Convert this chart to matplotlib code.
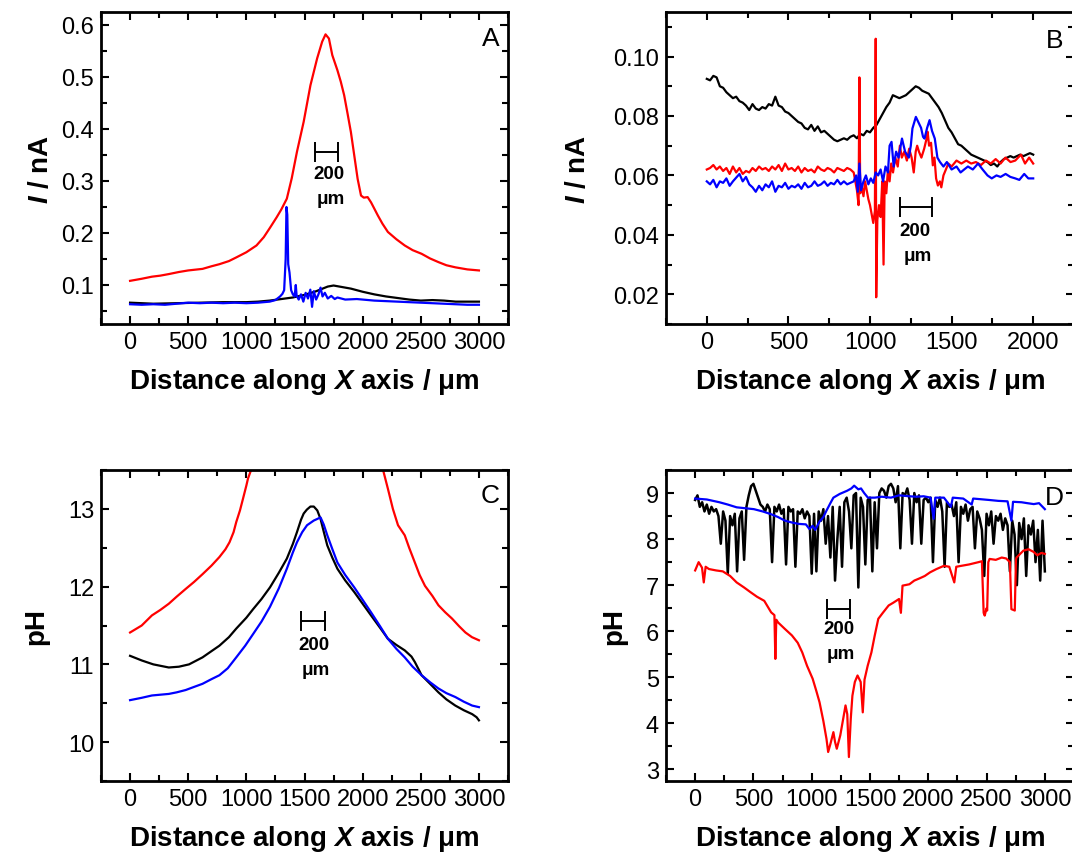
import numpy as np
import matplotlib
matplotlib.use('Agg')
import matplotlib.pyplot as plt
from matplotlib.ticker import MultipleLocator, FormatStrFormatter

plt.rcParams['font.family'] = ['Liberation Sans', 'DejaVu Sans']
plt.rcParams['mathtext.fontset'] = 'custom'
plt.rcParams['mathtext.rm'] = 'Liberation Sans:bold'
plt.rcParams['mathtext.it'] = 'Liberation Sans:bold:italic'

# ---- panel A: current vs distance (x in um, y in nA)
a_red = [(0, 0.108), (100, 0.112), (188, 0.116), (260, 0.118), (333, 0.121), (420, 0.125),
         (500, 0.128), (623, 0.131), (700, 0.136), (768, 0.140), (850, 0.146), (913, 0.153),
         (1000, 0.163), (1087, 0.176), (1150, 0.192), (1203, 0.210), (1260, 0.230), (1300, 0.245),
         (1348, 0.266), (1390, 0.305), (1435, 0.356), (1493, 0.414), (1551, 0.484), (1609, 0.536),
         (1652, 0.568), (1681, 0.582), (1710, 0.574), (1739, 0.542), (1783, 0.513), (1812, 0.491),
         (1841, 0.465), (1870, 0.430), (1899, 0.394), (1928, 0.349), (1957, 0.304), (1986, 0.272),
         (2010, 0.268), (2043, 0.269), (2072, 0.259), (2100, 0.247), (2130, 0.234), (2170, 0.218),
         (2217, 0.202), (2290, 0.188), (2362, 0.176), (2430, 0.167), (2507, 0.160), (2580, 0.151),
         (2652, 0.144), (2720, 0.138), (2797, 0.134), (2900, 0.130), (3000, 0.128)]
a_black = [(0, 0.066), (200, 0.064), (400, 0.065), (600, 0.066), (800, 0.067), (1000, 0.067),
           (1100, 0.068), (1200, 0.070), (1300, 0.073), (1400, 0.076), (1500, 0.081), (1600, 0.088),
           (1700, 0.097), (1750, 0.099), (1800, 0.097), (1900, 0.093), (2000, 0.087), (2100, 0.082),
           (2200, 0.078), (2300, 0.075), (2400, 0.072), (2500, 0.070), (2600, 0.071), (2700, 0.070),
           (2800, 0.068), (2900, 0.068), (3000, 0.068)]
a_blue = [(0, 0.063), (100, 0.062), (200, 0.063), (300, 0.062), (400, 0.064), (500, 0.066),
          (600, 0.065), (700, 0.066), (800, 0.065), (900, 0.066), (1000, 0.065), (1100, 0.066),
          (1200, 0.068), (1250, 0.071), (1290, 0.078), (1310, 0.083), (1325, 0.090), (1338, 0.150),
          (1345, 0.250), (1352, 0.235), (1360, 0.140), (1371, 0.124), (1385, 0.090), (1400, 0.082),
          (1415, 0.078), (1425, 0.100), (1432, 0.080), (1450, 0.072), (1470, 0.082), (1490, 0.068),
          (1510, 0.085), (1530, 0.074), (1550, 0.091), (1565, 0.058), (1580, 0.088), (1600, 0.072),
          (1620, 0.082), (1638, 0.095), (1655, 0.078), (1675, 0.085), (1700, 0.074), (1730, 0.079),
          (1760, 0.073), (1783, 0.076), (1850, 0.072), (1950, 0.073), (2100, 0.070), (2300, 0.068),
          (2500, 0.066), (2700, 0.064), (2900, 0.062), (3000, 0.062)]

# ---- panel B
b_black = [(0, 0.0925), (20, 0.0920), (40, 0.0935), (60, 0.0930), (80, 0.0900), (100, 0.0895),
           (120, 0.0880), (140, 0.0870), (160, 0.0860), (180, 0.0865), (200, 0.0850), (220, 0.0845),
           (240, 0.0835), (260, 0.0820), (280, 0.0840), (300, 0.0825), (320, 0.0820), (340, 0.0830),
           (360, 0.0825), (380, 0.0840), (400, 0.0835), (420, 0.0865), (440, 0.0835), (460, 0.0830),
           (480, 0.0815), (500, 0.0810), (520, 0.0800), (540, 0.0790), (560, 0.0780), (580, 0.0775),
           (600, 0.0760), (620, 0.0755), (640, 0.0770), (660, 0.0750), (680, 0.0765), (700, 0.0745),
           (720, 0.0750), (740, 0.0740), (760, 0.0730), (780, 0.0720), (800, 0.0715), (820, 0.0720),
           (840, 0.0725), (860, 0.0720), (880, 0.0730), (900, 0.0735), (920, 0.0725), (940, 0.0740),
           (960, 0.0735), (980, 0.0750), (1000, 0.0745), (1020, 0.0760), (1040, 0.0770), (1060, 0.0790),
           (1080, 0.0810), (1100, 0.0830), (1120, 0.0845), (1140, 0.0870), (1160, 0.0865), (1180, 0.0860),
           (1200, 0.0865), (1220, 0.0870), (1240, 0.0880), (1260, 0.0890), (1280, 0.0900), (1300, 0.0895),
           (1320, 0.0885), (1340, 0.0880), (1360, 0.0875), (1380, 0.0860), (1400, 0.0845), (1420, 0.0830),
           (1440, 0.0810), (1460, 0.0785), (1480, 0.0760), (1500, 0.0745), (1520, 0.0725), (1540, 0.0705),
           (1560, 0.0700), (1580, 0.0690), (1600, 0.0680), (1620, 0.0670), (1640, 0.0665), (1660, 0.0660),
           (1680, 0.0655), (1700, 0.0650), (1720, 0.0645), (1740, 0.0635), (1760, 0.0640), (1780, 0.0630),
           (1800, 0.0645), (1820, 0.0655), (1840, 0.0660), (1860, 0.0665), (1880, 0.0660), (1900, 0.0665),
           (1920, 0.0670), (1940, 0.0665), (1960, 0.0670), (1980, 0.0675), (2000, 0.0670)]
b_red = [(0, 0.0620), (20, 0.0625), (40, 0.0635), (60, 0.0620), (80, 0.0630), (100, 0.0615),
         (120, 0.0625), (140, 0.0605), (160, 0.0630), (180, 0.0610), (200, 0.0625), (220, 0.0605),
         (240, 0.0615), (260, 0.0610), (280, 0.0625), (300, 0.0615), (320, 0.0630), (340, 0.0620),
         (360, 0.0625), (380, 0.0615), (400, 0.0630), (420, 0.0620), (440, 0.0635), (460, 0.0615),
         (480, 0.0640), (500, 0.0620), (520, 0.0625), (540, 0.0615), (560, 0.0630), (580, 0.0610),
         (600, 0.0625), (620, 0.0615), (640, 0.0620), (660, 0.0610), (680, 0.0630), (700, 0.0620),
         (720, 0.0615), (740, 0.0625), (760, 0.0620), (780, 0.0610), (800, 0.0625), (820, 0.0620),
         (840, 0.0615), (860, 0.0625), (880, 0.0620), (900, 0.0610), (910, 0.0580), (920, 0.0550),
         (930, 0.0500), (935, 0.0930), (940, 0.0540), (950, 0.0560), (960, 0.0530), (970, 0.0580),
         (980, 0.0550), (990, 0.0520), (1000, 0.0500), (1010, 0.0470), (1020, 0.0440), (1030, 0.0480),
         (1035, 0.1060), (1038, 0.0190), (1045, 0.0450), (1055, 0.0500), (1065, 0.0460), (1075, 0.0580),
         (1083, 0.0300), (1090, 0.0580), (1100, 0.0540), (1110, 0.0620), (1120, 0.0580), (1130, 0.0640),
         (1141, 0.0610), (1155, 0.0660), (1170, 0.0630), (1183, 0.0700), (1195, 0.0660), (1210, 0.0680),
         (1226, 0.0650), (1240, 0.0690), (1255, 0.0660), (1268, 0.0610), (1280, 0.0680), (1289, 0.0700),
         (1300, 0.0680), (1315, 0.0660), (1332, 0.0690), (1345, 0.0720), (1353, 0.0747), (1362, 0.0700),
         (1374, 0.0710), (1385, 0.0634), (1395, 0.0660), (1405, 0.0590), (1416, 0.0566), (1428, 0.0580),
         (1437, 0.0560), (1450, 0.0600), (1465, 0.0620), (1480, 0.0640), (1500, 0.0630), (1530, 0.0650),
         (1560, 0.0640), (1590, 0.0650), (1620, 0.0640), (1649, 0.0645), (1680, 0.0635), (1710, 0.0650),
         (1740, 0.0640), (1770, 0.0655), (1800, 0.0640), (1830, 0.0660), (1861, 0.0645), (1890, 0.0650),
         (1925, 0.0670), (1950, 0.0640), (1975, 0.0660), (2000, 0.0640)]
b_blue = [(0, 0.0580), (20, 0.0570), (40, 0.0585), (60, 0.0560), (80, 0.0580), (100, 0.0575),
          (120, 0.0590), (140, 0.0565), (160, 0.0580), (184, 0.0595), (200, 0.0605), (220, 0.0580),
          (240, 0.0595), (260, 0.0570), (280, 0.0560), (300, 0.0545), (320, 0.0565), (340, 0.0550),
          (360, 0.0570), (380, 0.0560), (400, 0.0580), (420, 0.0545), (440, 0.0565), (460, 0.0560),
          (480, 0.0575), (500, 0.0555), (520, 0.0565), (540, 0.0560), (560, 0.0570), (580, 0.0555),
          (600, 0.0575), (620, 0.0560), (640, 0.0565), (660, 0.0580), (680, 0.0565), (700, 0.0570),
          (720, 0.0580), (740, 0.0565), (760, 0.0575), (780, 0.0570), (800, 0.0585), (820, 0.0570),
          (840, 0.0580), (860, 0.0570), (880, 0.0575), (900, 0.0580), (915, 0.0600), (925, 0.0545),
          (935, 0.0640), (945, 0.0550), (960, 0.0580), (975, 0.0600), (990, 0.0570), (1005, 0.0590),
          (1020, 0.0575), (1035, 0.0610), (1050, 0.0600), (1065, 0.0620), (1080, 0.0580), (1095, 0.0630),
          (1110, 0.0610), (1120, 0.0700), (1132, 0.0713), (1145, 0.0630), (1160, 0.0680), (1175, 0.0660),
          (1196, 0.0724), (1215, 0.0680), (1238, 0.0660), (1250, 0.0700), (1260, 0.0758), (1281, 0.0797),
          (1300, 0.0775), (1313, 0.0760), (1325, 0.0730), (1334, 0.0724), (1350, 0.0760), (1365, 0.0786),
          (1380, 0.0750), (1397, 0.0724), (1413, 0.0660), (1429, 0.0645), (1450, 0.0630), (1471, 0.0645),
          (1500, 0.0620), (1530, 0.0630), (1555, 0.0610), (1577, 0.0620), (1600, 0.0630), (1630, 0.0620),
          (1662, 0.0640), (1690, 0.0620), (1720, 0.0600), (1746, 0.0590), (1775, 0.0600), (1800, 0.0595),
          (1831, 0.0605), (1860, 0.0595), (1890, 0.0590), (1915, 0.0585), (1945, 0.0605), (1970, 0.0590),
          (2000, 0.0590)]

# ---- panel C: pH (red goes off scale in the middle -> nan gap)
c_red = [(0, 11.41), (100, 11.50), (188, 11.63), (260, 11.70), (333, 11.78), (400, 11.87),
         (478, 11.97), (550, 12.06), (623, 12.16), (700, 12.27), (768, 12.38), (820, 12.48),
         (855, 12.57), (890, 12.70), (913, 12.83), (945, 12.98), (971, 13.13), (1000, 13.30),
         (1014, 13.39), (1043, 13.51), (1050, 13.60), (1600, np.nan), (2165, 13.60), (2174, 13.51),
         (2217, 13.26), (2260, 13.00), (2304, 12.79), (2362, 12.66), (2400, 12.50), (2449, 12.31),
         (2490, 12.15), (2536, 12.01), (2600, 11.88), (2652, 11.76), (2710, 11.67), (2768, 11.59),
         (2830, 11.49), (2884, 11.41), (2940, 11.35), (3000, 11.31)]
c_black = [(0, 11.11), (101, 11.05), (200, 11.00), (333, 10.96), (420, 10.97), (507, 11.00),
           (623, 11.09), (700, 11.17), (768, 11.24), (850, 11.35), (913, 11.46), (1000, 11.60),
           (1058, 11.71), (1130, 11.84), (1203, 11.99), (1280, 12.18), (1348, 12.36), (1400, 12.55),
           (1435, 12.70), (1470, 12.86), (1493, 12.94), (1520, 12.99), (1551, 13.03), (1580, 13.03),
           (1610, 12.98), (1638, 12.87), (1670, 12.68), (1696, 12.53), (1740, 12.37), (1783, 12.23),
           (1850, 12.08), (1928, 11.93), (2000, 11.78), (2072, 11.63), (2150, 11.47), (2217, 11.33),
           (2290, 11.25), (2362, 11.18), (2420, 11.10), (2449, 11.03), (2480, 10.94), (2507, 10.86),
           (2580, 10.75), (2652, 10.64), (2720, 10.55), (2797, 10.47), (2870, 10.41), (2942, 10.36),
           (2980, 10.32), (3000, 10.28)]
c_blue = [(0, 10.54), (100, 10.57), (188, 10.60), (260, 10.61), (333, 10.62), (400, 10.64),
          (478, 10.67), (550, 10.71), (623, 10.75), (700, 10.81), (768, 10.86), (840, 10.95),
          (913, 11.09), (990, 11.24), (1058, 11.39), (1130, 11.55), (1203, 11.74), (1280, 11.98),
          (1348, 12.23), (1400, 12.44), (1435, 12.57), (1480, 12.70), (1522, 12.79), (1580, 12.85),
          (1638, 12.89), (1665, 12.80), (1696, 12.66), (1740, 12.48), (1783, 12.31), (1850, 12.15),
          (1928, 11.99), (2000, 11.83), (2072, 11.67), (2150, 11.49), (2217, 11.33), (2290, 11.20),
          (2362, 11.09), (2430, 10.97), (2507, 10.86), (2580, 10.77), (2652, 10.69), (2720, 10.63),
          (2797, 10.58), (2870, 10.52), (2942, 10.47), (3000, 10.45)]

# ---- panel D: pH
d_red = [(0, 7.32), (30, 7.50), (59, 7.38), (74, 7.06), (90, 7.40), (119, 7.35), (180, 7.32),
         (237, 7.30), (300, 7.20), (356, 7.06), (420, 6.95), (474, 6.85), (530, 6.75), (593, 6.66),
         (652, 6.41), (680, 6.35), (688, 5.40), (696, 6.25), (712, 6.19), (770, 6.05), (830, 5.91),
         (880, 5.75), (919, 5.54), (960, 5.25), (1008, 4.97), (1040, 4.70), (1067, 4.46), (1100, 4.05),
         (1127, 3.66), (1141, 3.38), (1160, 3.55), (1186, 3.81), (1200, 3.60), (1215, 3.45),
         (1245, 3.74), (1270, 4.10), (1290, 4.39), (1305, 4.20), (1319, 3.27), (1335, 4.10),
         (1349, 4.60), (1370, 4.90), (1393, 5.04), (1420, 4.90), (1438, 4.24), (1453, 4.95),
         (1480, 5.25), (1512, 5.54), (1540, 5.90), (1571, 6.27), (1610, 6.40), (1660, 6.56),
         (1700, 6.62), (1749, 6.70), (1765, 6.40), (1779, 6.99), (1838, 7.02), (1880, 7.10),
         (1927, 7.15), (1970, 7.20), (2016, 7.28), (2070, 7.35), (2134, 7.42), (2180, 7.40),
         (2223, 7.06), (2240, 7.40), (2283, 7.42), (2350, 7.45), (2431, 7.50), (2460, 7.52),
         (2475, 6.40), (2484, 6.34), (2500, 6.50), (2505, 6.45), (2515, 7.50), (2526, 7.57),
         (2579, 7.55), (2630, 7.60), (2668, 7.58), (2700, 7.50), (2713, 6.48), (2742, 6.45),
         (2752, 7.55), (2757, 7.60), (2816, 7.75), (2860, 7.78), (2905, 7.72), (2935, 7.65),
         (2970, 7.70), (3000, 7.68)]
d_blue = [(0, 8.88), (100, 8.86), (208, 8.80), (280, 8.75), (356, 8.69), (430, 8.67), (504, 8.65),
          (580, 8.60), (652, 8.54), (710, 8.48), (771, 8.40), (830, 8.36), (889, 8.33), (950, 8.32),
          (980, 8.22), (1008, 8.29), (1030, 8.20), (1067, 8.38), (1100, 8.48), (1127, 8.62),
          (1160, 8.78), (1186, 8.90), (1240, 8.98), (1304, 9.05), (1340, 9.10), (1364, 9.16),
          (1400, 9.08), (1423, 9.10), (1450, 9.00), (1482, 8.90), (1541, 8.90), (1600, 8.92),
          (1680, 8.90), (1750, 8.95), (1838, 8.93), (1900, 8.92), (1960, 8.93), (2020, 8.90),
          (2046, 8.44), (2060, 8.90), (2134, 8.90), (2194, 8.70), (2210, 8.90), (2300, 8.88),
          (2372, 8.75), (2385, 8.88), (2431, 8.87), (2520, 8.85), (2600, 8.83), (2680, 8.82),
          (2713, 8.40), (2727, 8.81), (2800, 8.80), (2850, 8.78), (2905, 8.76), (2950, 8.78),
          (3000, 8.65)]
# black pH trace, sampled every 20 um from 0 to 3000
d_black = [8.85, 8.95, 8.70, 8.80, 8.60, 8.75, 8.55, 8.70, 8.60, 8.65,
           8.50, 7.90, 8.60, 8.40, 7.25, 8.50, 8.30, 8.55, 7.30, 8.45,
           8.60, 7.55, 8.70, 8.95, 9.15, 9.20, 9.05, 8.90, 8.75, 8.70,
           8.60, 8.75, 8.65, 7.50, 8.70, 8.60, 8.75, 8.55, 8.65, 7.45,
           8.70, 8.60, 8.65, 7.40, 8.60, 8.55, 8.65, 8.45, 8.60, 8.50,
           7.25, 8.55, 7.30, 8.60, 8.40, 8.65, 7.90, 8.50, 7.60, 8.70,
           7.10, 8.00, 8.70, 7.40, 8.80, 8.90, 8.60, 7.80, 8.95, 9.00,
           6.95, 8.90, 8.70, 7.45, 8.85, 8.90, 7.30, 8.80, 7.80, 9.00,
           9.10, 9.05, 8.90, 9.15, 9.20, 9.10, 8.80, 9.15, 7.80, 9.00,
           8.95, 9.10, 8.85, 7.90, 9.00, 8.80, 8.95, 7.90, 8.85, 8.90,
           8.80, 8.90, 7.50, 8.85, 8.70, 8.90, 8.60, 7.40, 8.80, 8.70,
           8.75, 8.50, 8.80, 7.50, 8.70, 8.55, 8.75, 8.40, 8.65, 8.70,
           7.80, 8.60, 8.45, 8.20, 7.20, 8.55, 8.30, 8.60, 7.90, 8.50,
           8.40, 8.55, 8.20, 8.45, 8.30, 7.30, 8.40, 8.10, 7.00, 8.35,
           8.00, 8.45, 7.20, 8.30, 8.10, 8.40, 7.50, 8.20, 7.10, 8.40,
           7.30]

XLABEL = r'Distance along $X$ axis / μm'


def xy(pairs):
    arr = np.array(pairs, dtype=float)
    return arr[:, 0], arr[:, 1]


def style_axes(ax, xlim, ylim, ymajor, yminor, yfmt):
    ax.set_xlim(*xlim)
    ax.set_ylim(*ylim)
    ax.xaxis.set_major_locator(MultipleLocator(500))
    ax.xaxis.set_minor_locator(MultipleLocator(250))
    ax.yaxis.set_major_locator(MultipleLocator(ymajor))
    ax.yaxis.set_minor_locator(MultipleLocator(yminor))
    ax.yaxis.set_major_formatter(FormatStrFormatter(yfmt))
    ax.tick_params(which='both', direction='in', top=True, right=True, width=1.5,
                   labelsize=17, pad=5)
    ax.tick_params(which='major', length=6)
    ax.tick_params(which='minor', length=4)
    for sp in ax.spines.values():
        sp.set_linewidth(2)
    ax.set_xlabel(XLABEL, fontsize=20, fontweight='bold')
    ax.xaxis.set_label_coords(0.5, -0.135)


def scale_bar(ax, xc, yb, yt1, yt2, xt):
    ax.errorbar([xc], [yb], xerr=100, fmt='none', ecolor='k', elinewidth=1.4,
                capsize=7, capthick=1.4)
    ax.text(xt, yt1, '200', ha='center', va='center', fontsize=13.5, fontweight='bold')
    ax.text(xt + 20, yt2, 'μm', ha='center', va='center', fontsize=13.5, fontweight='bold')


fig = plt.figure(figsize=(10.72, 8.54), dpi=100)
W, H = 1072.0, 854.0
axA = fig.add_axes([101 / W, (H - 325) / H, 407 / W, 312 / H])
axB = fig.add_axes([666 / W, (H - 325) / H, 408 / W, 312 / H])
axC = fig.add_axes([101 / W, (H - 782) / H, 407 / W, 311 / H])
axD = fig.add_axes([666 / W, (H - 782) / H, 408 / W, 311 / H])

lw = 1.6

# A
for pairs, col in [(a_black, 'black'), (a_blue, 'blue'), (a_red, 'red')]:
    x, y = xy(pairs)
    axA.plot(x, y, color=col, lw=lw)
style_axes(axA, (-250, 3250), (0.025, 0.625), 0.1, 0.05, '%.1f')
axA.set_ylabel(r'$I$ / nA', fontsize=20, fontweight='bold')
axA.yaxis.set_label_coords(-0.115, 0.5)
axA.text(0.98, 0.895, 'A', transform=axA.transAxes, ha='right', va='baseline', fontsize=19)
scale_bar(axA, 1690, 0.355, 0.314, 0.266, 1710)

# B
for pairs, col in [(b_black, 'black'), (b_red, 'red'), (b_blue, 'blue')]:
    x, y = xy(pairs)
    axB.plot(x, y, color=col, lw=lw)
style_axes(axB, (-250, 2250), (0.01, 0.115), 0.02, 0.01, '%.2f')
axB.set_ylabel(r'$I$ / nA', fontsize=20, fontweight='bold')
axB.yaxis.set_label_coords(-0.185, 0.5)
axB.text(0.975, 0.888, 'B', transform=axB.transAxes, ha='right', va='baseline', fontsize=19)
scale_bar(axB, 1282, 0.0493, 0.0414, 0.033, 1274)

# C
for pairs, col in [(c_red, 'red'), (c_black, 'black'), (c_blue, 'blue')]:
    x, y = xy(pairs)
    axC.plot(x, y, color=col, lw=lw)
style_axes(axC, (-250, 3250), (9.5, 13.5), 1, 0.5, '%d')
axC.set_ylabel('pH', fontsize=20, fontweight='bold')
axC.yaxis.set_label_coords(-0.128, 0.5)
axC.text(0.98, 0.897, 'C', transform=axC.transAxes, ha='right', va='baseline', fontsize=19)
scale_bar(axC, 1572, 11.56, 11.25, 10.94, 1580)

# D
xb = np.linspace(0, 3000, len(d_black))
axD.plot(xb, d_black, color='black', lw=1.8)
for pairs, col in [(d_blue, 'blue'), (d_red, 'red')]:
    x, y = xy(pairs)
    axD.plot(x, y, color=col, lw=lw)
style_axes(axD, (-250, 3250), (2.75, 9.5), 1, 0.5, '%d')
axD.set_ylabel('pH', fontsize=20, fontweight='bold')
axD.yaxis.set_label_coords(-0.096, 0.5)
axD.text(0.975, 0.89, 'D', transform=axD.transAxes, ha='right', va='baseline', fontsize=19)
scale_bar(axD, 1230, 6.48, 6.05, 5.51, 1230)

fig.savefig('out.png', dpi=100)
